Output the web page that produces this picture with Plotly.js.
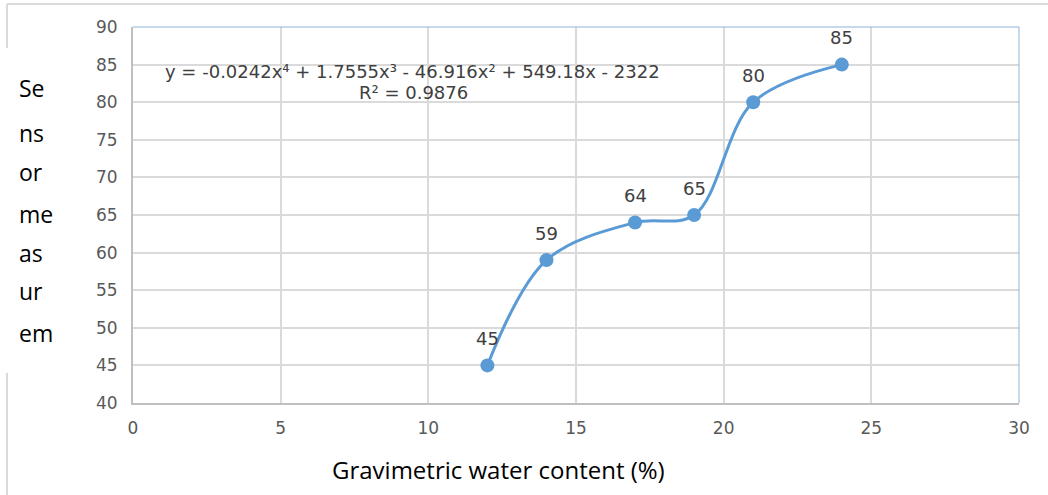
<!DOCTYPE html>
<html>
<head>
<meta charset="utf-8">
<script src="https://cdn.plot.ly/plotly-3.0.1.min.js"></script>
<style>
html,body{margin:0;padding:0;background:#fff;}
#chart{width:1048px;height:495px;}
</style>
</head>
<body>
<div id="chart"></div>
<script>
const waterContent = [12, 14, 17, 19, 21, 24];
const sensorValue = [45, 59, 64, 65, 80, 85];
const xTicks = [0, 5, 10, 15, 20, 25, 30];
const yTicks = [40, 45, 50, 55, 60, 65, 70, 75, 80, 85, 90];
const yTitleParts = ["Se", "ns", "or", "me", "as", "ur", "em"];
const equationText = "y = -0.0242x\u2074 + 1.7555x\u00b3 - 46.916x\u00b2 + 549.18x - 2322";
const r2Text = "R\u00b2 = 0.9876";
const xTitleText = "Gravimetric water content (%)";

const L = 133, R = 29, T = 27, B = 92, W = 1048, H = 495;
const pw = W - L - R, ph = H - T - B;
const px = x => (x - L) / pw;
const py = y => (H - B - y) / ph;

const trace = {
  x: waterContent,
  y: sensorValue,
  mode: 'lines+markers',
  type: 'scatter',
  line: {color: '#5b9bd5', width: 3, shape: 'spline', smoothing: 1},
  marker: {color: '#5b9bd5', size: 14},
  hoverinfo: 'skip'
};

const annotations = waterContent.map((x, i) => ({
  x: x, y: sensorValue[i], xref: 'x', yref: 'y',
  xanchor: 'center', yanchor: 'middle',
  text: String(sensorValue[i]), showarrow: false,
  yshift: 27,
  font: {family: 'DejaVu Sans, sans-serif', size: 18, color: '#404040'}
}));

annotations.push({
  xref: 'paper', yref: 'paper', x: px(412), y: py(71),
  xanchor: 'center', yanchor: 'middle',
  text: equationText, showarrow: false,
  font: {family: 'DejaVu Sans, sans-serif', size: 18, color: '#404040'}
});
annotations.push({
  xref: 'paper', yref: 'paper', x: px(413), y: py(92),
  xanchor: 'center', yanchor: 'middle',
  text: r2Text, showarrow: false,
  font: {family: 'DejaVu Sans, sans-serif', size: 18, color: '#404040'}
});
annotations.push({
  xref: 'paper', yref: 'paper', x: px(498), y: py(470),
  xanchor: 'center', yanchor: 'middle',
  text: xTitleText, showarrow: false,
  font: {family: 'Open Sans, sans-serif', size: 24, color: '#000000'}
});
const yTitleY = [88, 133, 172, 214, 253, 291, 333];
yTitleParts.forEach((t, i) => {
  annotations.push({
    xref: 'paper', yref: 'paper', x: px(17), y: py(yTitleY[i]),
    xanchor: 'left', yanchor: 'middle', text: t, showarrow: false,
    font: {family: 'Open Sans, sans-serif', size: 23, color: '#000000'}
  });
});

const shapes = [
  {type: 'line', xref: 'paper', yref: 'paper', x0: px(7), x1: px(1048), y0: py(4), y1: py(4), line: {color: '#d9d9d9', width: 2}},
  {type: 'line', xref: 'paper', yref: 'paper', x0: px(7), x1: px(7), y0: py(4), y1: py(48), line: {color: '#d9d9d9', width: 2}},
  {type: 'line', xref: 'paper', yref: 'paper', x0: px(7), x1: px(7), y0: py(373), y1: py(495), line: {color: '#d9d9d9', width: 2}},
  {type: 'line', xref: 'paper', yref: 'paper', x0: 0, x1: 1, y0: 1, y1: 1, line: {color: '#8fb3da', width: 1}},
  {type: 'line', xref: 'paper', yref: 'paper', x0: 1, x1: 1, y0: 0, y1: 1, line: {color: '#8fb3da', width: 1}}
];

const layout = {
  width: W, height: H,
  margin: {l: L, r: R, t: T, b: B, pad: 0},
  paper_bgcolor: '#ffffff', plot_bgcolor: '#ffffff',
  showlegend: false,
  xaxis: {
    range: [0, 30], tickvals: xTicks, ticktext: xTicks.map(String),
    showgrid: true, gridcolor: '#dadada', gridwidth: 2,
    zeroline: false, showline: true, linecolor: '#bfbfbf', linewidth: 2,
    ticks: '', ticklabelstandoff: 9,
    tickfont: {family: 'DejaVu Sans, sans-serif', size: 17, color: '#595959'}
  },
  yaxis: {
    range: [40, 90], tickvals: yTicks, ticktext: yTicks.map(String),
    showgrid: true, gridcolor: '#dadada', gridwidth: 2,
    zeroline: false, showline: true, linecolor: '#bfbfbf', linewidth: 2,
    ticks: '', ticklabelstandoff: 10,
    tickfont: {family: 'DejaVu Sans, sans-serif', size: 17, color: '#595959'}
  },
  annotations: annotations,
  shapes: shapes
};

Plotly.newPlot('chart', [trace], layout, {displayModeBar: false, staticPlot: true});
</script>
</body>
</html>
